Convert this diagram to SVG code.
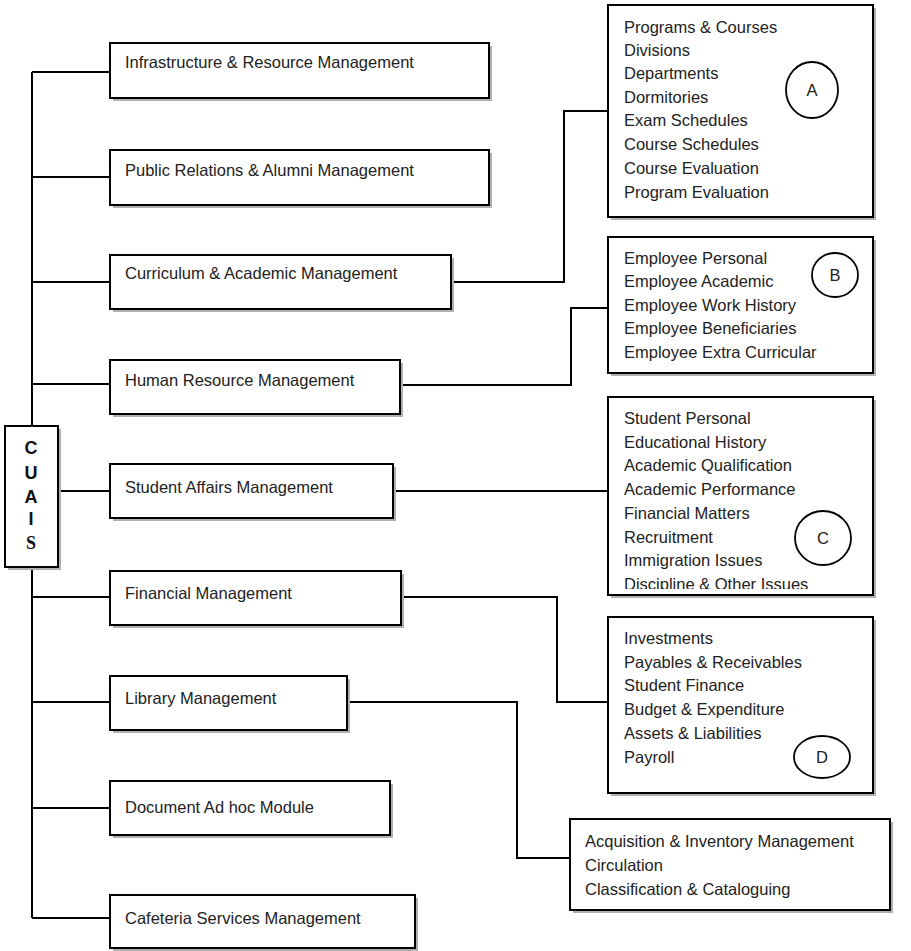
<svg xmlns="http://www.w3.org/2000/svg" width="911" height="951" viewBox="0 0 911 951">
<defs>
<style>
.box{fill:#fff;stroke:#000;stroke-width:2}
.sh{fill:#b0b0b0;stroke:none}
.t{font-family:"Liberation Sans",Arial,sans-serif;font-size:16.5px;fill:#222}
.c{fill:none;stroke:#000;stroke-width:1.8}
.con{fill:none;stroke:#000;stroke-width:2}
.big{font-family:"Liberation Sans",Arial,sans-serif;font-size:18px;font-weight:bold;fill:#111}
</style>
<clipPath id="clipC"><rect x="600" y="390" width="300" height="199"/></clipPath>
</defs>
<rect width="911" height="951" fill="#fff"/>

<g id="connectors">
<path class="con" d="M32,72 V426 M32,567 V918"/>
<path class="con" d="M32,72 H110 M32,177 H110 M32,282 H110 M32,384 H110 M58,491 H110 M32,597 H110 M32,702 H110 M32,808 H110 M32,918 H110"/>
<path class="con" d="M451,282 H564 V111 H608"/>
<path class="con" d="M400,385 H571 V308 H608"/>
<path class="con" d="M393,491 H608"/>
<path class="con" d="M401,597 H557 V702 H608"/>
<path class="con" d="M347,702 H517 V858 H570"/>
</g>

<g id="cuais">
<rect class="sh" x="8" y="429" width="53" height="141"/>
<rect class="box" x="5" y="426" width="53" height="141"/>
<text class="big" x="31" y="454" text-anchor="middle">C</text>
<text class="big" x="31" y="479" text-anchor="middle">U</text>
<text class="big" x="31" y="503" text-anchor="middle">A</text>
<text class="big" x="31" y="525" text-anchor="middle">I</text>
<text class="big" x="31" y="549" text-anchor="middle" style="font-family:'Liberation Serif','Times New Roman',serif">S</text>
</g>

<g id="infrastructure">
<rect class="sh" x="113" y="46" width="379" height="55"/>
<rect class="box" x="110" y="43" width="379" height="55"/>
<text class="t" x="125" y="68">Infrastructure &amp; Resource Management</text>
</g>
<g id="public-relations">
<rect class="sh" x="113" y="153" width="379" height="55"/>
<rect class="box" x="110" y="150" width="379" height="55"/>
<text class="t" x="125" y="176">Public Relations &amp; Alumni Management</text>
</g>
<g id="curriculum">
<rect class="sh" x="113" y="258" width="341" height="54"/>
<rect class="box" x="110" y="255" width="341" height="54"/>
<text class="t" x="125" y="279">Curriculum &amp; Academic Management</text>
</g>
<g id="human-resource">
<rect class="sh" x="113" y="363" width="290" height="54"/>
<rect class="box" x="110" y="360" width="290" height="54"/>
<text class="t" x="125" y="386">Human Resource Management</text>
</g>
<g id="student-affairs">
<rect class="sh" x="113" y="467" width="283" height="54"/>
<rect class="box" x="110" y="464" width="283" height="54"/>
<text class="t" x="125" y="493">Student Affairs Management</text>
</g>
<g id="financial">
<rect class="sh" x="113" y="574" width="291" height="54"/>
<rect class="box" x="110" y="571" width="291" height="54"/>
<text class="t" x="125" y="599">Financial Management</text>
</g>
<g id="library">
<rect class="sh" x="113" y="679" width="237" height="54"/>
<rect class="box" x="110" y="676" width="237" height="54"/>
<text class="t" x="125" y="704">Library Management</text>
</g>
<g id="document">
<rect class="sh" x="113" y="784" width="280" height="54"/>
<rect class="box" x="110" y="781" width="280" height="54"/>
<text class="t" x="125" y="813">Document Ad hoc Module</text>
</g>
<g id="cafeteria">
<rect class="sh" x="113" y="898" width="305" height="53"/>
<rect class="box" x="110" y="895" width="305" height="53"/>
<text class="t" x="125" y="924">Cafeteria Services Management</text>
</g>

<g id="box-a">
<rect class="sh" x="611" y="8" width="265" height="212"/>
<rect class="box" x="608" y="5" width="265" height="212"/>
<text class="t" x="624" y="33">Programs &amp; Courses</text>
<text class="t" x="624" y="56">Divisions</text>
<text class="t" x="624" y="79">Departments</text>
<text class="t" x="624" y="103">Dormitories</text>
<text class="t" x="624" y="126">Exam Schedules</text>
<text class="t" x="624" y="150">Course Schedules</text>
<text class="t" x="624" y="174">Course Evaluation</text>
<text class="t" x="624" y="198">Program Evaluation</text>
<ellipse class="c" cx="812" cy="90" rx="26" ry="28"/>
<text class="t" x="812" y="96" text-anchor="middle">A</text>
</g>

<g id="box-b">
<rect class="sh" x="611" y="240" width="265" height="136"/>
<rect class="box" x="608" y="237" width="265" height="136"/>
<text class="t" x="624" y="264">Employee Personal</text>
<text class="t" x="624" y="287">Employee Academic</text>
<text class="t" x="624" y="311">Employee Work History</text>
<text class="t" x="624" y="334">Employee Beneficiaries</text>
<text class="t" x="624" y="358">Employee Extra Curricular</text>
<ellipse class="c" cx="835" cy="275" rx="23" ry="22"/>
<text class="t" x="835" y="281" text-anchor="middle">B</text>
</g>

<g id="box-c">
<rect class="sh" x="611" y="400" width="265" height="198"/>
<rect class="box" x="608" y="397" width="265" height="198"/>
<g clip-path="url(#clipC)">
<text class="t" x="624" y="424">Student Personal</text>
<text class="t" x="624" y="448">Educational History</text>
<text class="t" x="624" y="471">Academic Qualification</text>
<text class="t" x="624" y="495">Academic Performance</text>
<text class="t" x="624" y="519">Financial Matters</text>
<text class="t" x="624" y="543">Recruitment</text>
<text class="t" x="624" y="566">Immigration Issues</text>
<text class="t" x="624" y="590">Discipline &amp; Other Issues</text>
</g>
<ellipse class="c" cx="823" cy="538" rx="28" ry="27"/>
<text class="t" x="823" y="544" text-anchor="middle">C</text>
</g>

<g id="box-d">
<rect class="sh" x="611" y="620" width="265" height="176"/>
<rect class="box" x="608" y="617" width="265" height="176"/>
<text class="t" x="624" y="644">Investments</text>
<text class="t" x="624" y="668">Payables &amp; Receivables</text>
<text class="t" x="624" y="691">Student Finance</text>
<text class="t" x="624" y="715">Budget &amp; Expenditure</text>
<text class="t" x="624" y="739">Assets &amp; Liabilities</text>
<text class="t" x="624" y="763">Payroll</text>
<ellipse class="c" cx="822" cy="757" rx="28" ry="21"/>
<text class="t" x="822" y="763" text-anchor="middle">D</text>
</g>

<g id="box-e">
<rect class="sh" x="573" y="822" width="320" height="91"/>
<rect class="box" x="570" y="819" width="320" height="91"/>
<text class="t" x="585" y="847">Acquisition &amp; Inventory Management</text>
<text class="t" x="585" y="871">Circulation</text>
<text class="t" x="585" y="895">Classification &amp; Cataloguing</text>
</g>
</svg>
